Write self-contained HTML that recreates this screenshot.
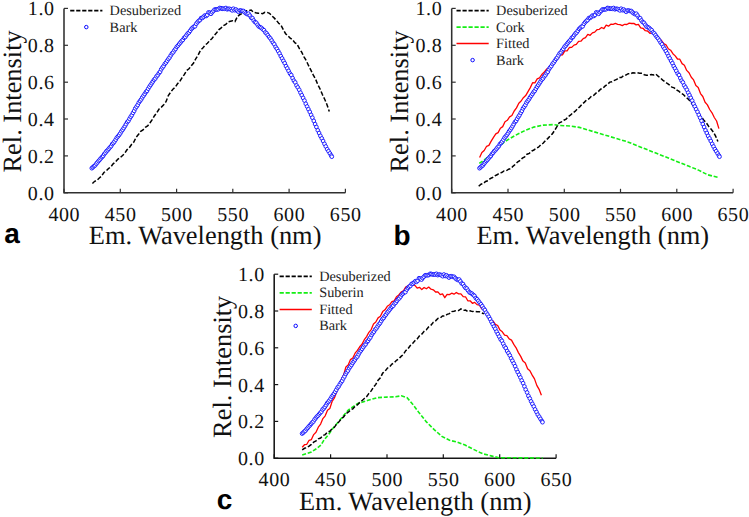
<!DOCTYPE html>
<html><head><meta charset="utf-8"><style>
html,body{margin:0;padding:0;background:#fff;overflow:hidden;width:749px;height:517px;}
svg{display:block;text-rendering:geometricPrecision;}
.tl{font-family:"Liberation Serif",serif;font-size:20px;fill:#111;letter-spacing:0.6px;}
.at{font-family:"Liberation Serif",serif;font-size:26.4px;fill:#111;}
.lg{font-family:"Liberation Serif",serif;font-size:14.3px;fill:#222;}
.pl{font-family:"Liberation Sans",sans-serif;font-size:28px;font-weight:bold;fill:#000;}
</style></head><body>
<svg width="749" height="517" viewBox="0 0 749 517">
<rect width="749" height="517" fill="#fff"/>
<path d="M64.0,8.4 V192.8 H345.4" fill="none" stroke="#303030" stroke-width="1.55"/>
<line x1="64.0" y1="192.8" x2="68.0" y2="192.8" stroke="#303030" stroke-width="1.2"/>
<text x="54.6" y="199.7" text-anchor="end" class="tl">0.0</text>
<line x1="64.0" y1="155.9" x2="68.0" y2="155.9" stroke="#303030" stroke-width="1.2"/>
<text x="54.6" y="162.8" text-anchor="end" class="tl">0.2</text>
<line x1="64.0" y1="119.0" x2="68.0" y2="119.0" stroke="#303030" stroke-width="1.2"/>
<text x="54.6" y="125.9" text-anchor="end" class="tl">0.4</text>
<line x1="64.0" y1="82.2" x2="68.0" y2="82.2" stroke="#303030" stroke-width="1.2"/>
<text x="54.6" y="89.1" text-anchor="end" class="tl">0.6</text>
<line x1="64.0" y1="45.3" x2="68.0" y2="45.3" stroke="#303030" stroke-width="1.2"/>
<text x="54.6" y="52.2" text-anchor="end" class="tl">0.8</text>
<line x1="64.0" y1="8.4" x2="68.0" y2="8.4" stroke="#303030" stroke-width="1.2"/>
<text x="54.6" y="15.3" text-anchor="end" class="tl">1.0</text>
<line x1="64.0" y1="192.8" x2="64.0" y2="188.8" stroke="#303030" stroke-width="1.2"/>
<text x="64.3" y="220.8" text-anchor="middle" class="tl">400</text>
<line x1="120.3" y1="192.8" x2="120.3" y2="188.8" stroke="#303030" stroke-width="1.2"/>
<text x="120.6" y="220.8" text-anchor="middle" class="tl">450</text>
<line x1="176.6" y1="192.8" x2="176.6" y2="188.8" stroke="#303030" stroke-width="1.2"/>
<text x="176.9" y="220.8" text-anchor="middle" class="tl">500</text>
<line x1="232.8" y1="192.8" x2="232.8" y2="188.8" stroke="#303030" stroke-width="1.2"/>
<text x="233.1" y="220.8" text-anchor="middle" class="tl">550</text>
<line x1="289.1" y1="192.8" x2="289.1" y2="188.8" stroke="#303030" stroke-width="1.2"/>
<text x="289.4" y="220.8" text-anchor="middle" class="tl">600</text>
<line x1="345.4" y1="192.8" x2="345.4" y2="188.8" stroke="#303030" stroke-width="1.2"/>
<text x="345.7" y="220.8" text-anchor="middle" class="tl">650</text>
<text x="88.8" y="244.1" class="at">Em. Wavelength (nm)</text>
<text transform="translate(20.7,172.5) rotate(-90)" class="at">Rel. Intensity</text>
<text x="4.2" y="242.7" class="pl">a</text>
<polyline points="92.4,183.5 94.7,181.3 97.0,180.2 99.3,178.0 101.6,176.1 103.9,172.5 106.2,170.9 108.5,168.5 110.8,166.9 113.1,163.9 115.4,162.1 117.7,159.3 120.0,157.9 122.3,155.7 124.6,153.5 126.9,149.8 129.2,147.9 131.5,144.5 133.8,142.1 136.1,137.3 138.4,134.6 140.7,131.4 143.0,129.9 145.3,127.4 147.6,126.0 149.9,123.0 152.2,119.7 154.5,115.7 156.8,112.7 159.1,109.0 161.4,107.1 163.7,104.7 166.0,101.7 168.3,95.7 170.6,92.3 172.9,89.2 175.2,87.3 177.5,83.8 179.8,81.3 182.1,77.7 184.4,74.4 186.7,70.4 189.0,68.8 191.3,65.7 193.6,63.0 195.9,58.5 198.2,54.9 200.5,50.2 202.8,48.1 205.1,45.1 207.4,43.3 209.7,40.6 212.0,38.5 214.3,35.4 216.6,32.8 218.9,29.6 221.2,27.9 223.5,25.6 225.8,24.4 228.1,22.0 230.4,21.3 232.7,20.8 235.0,21.6 237.3,16.8 239.6,14.7 241.9,13.6 244.2,13.0 246.5,10.7 248.8,10.5 251.1,10.0 253.4,12.3 255.7,12.8 258.0,13.2 260.3,13.2 262.6,13.7 264.9,12.3 267.2,12.4 269.5,13.3 271.8,15.8 274.1,17.9 276.4,20.4 278.7,23.2 281.0,25.2 283.3,29.6 285.6,33.7 287.9,35.8 290.2,38.1 292.5,39.7 294.8,42.7 297.1,44.2 299.4,48.7 301.7,52.2 304.0,56.9 306.3,60.7 308.6,65.7 310.9,70.1 313.2,74.9 315.5,78.9 317.8,84.6 320.1,89.0 322.4,94.5 324.7,99.3 327.0,104.7 329.3,111.5" fill="none" stroke="#000" stroke-width="1.5" stroke-dasharray="4.5 2"/>
<g fill="#fff" stroke="#0a0aff" stroke-width="0.9"><circle cx="91.8" cy="168.2" r="1.85"/><circle cx="92.9" cy="167.2" r="1.85"/><circle cx="94.1" cy="166.1" r="1.85"/><circle cx="95.2" cy="165.3" r="1.85"/><circle cx="96.3" cy="163.7" r="1.85"/><circle cx="97.4" cy="162.4" r="1.85"/><circle cx="98.6" cy="161.0" r="1.85"/><circle cx="99.7" cy="159.8" r="1.85"/><circle cx="100.8" cy="158.4" r="1.85"/><circle cx="102.0" cy="157.1" r="1.85"/><circle cx="103.1" cy="156.0" r="1.85"/><circle cx="104.2" cy="154.1" r="1.85"/><circle cx="105.4" cy="152.8" r="1.85"/><circle cx="106.5" cy="151.2" r="1.85"/><circle cx="107.7" cy="150.2" r="1.85"/><circle cx="108.8" cy="148.8" r="1.85"/><circle cx="109.9" cy="147.4" r="1.85"/><circle cx="111.1" cy="146.2" r="1.85"/><circle cx="112.2" cy="144.1" r="1.85"/><circle cx="113.4" cy="143.0" r="1.85"/><circle cx="114.5" cy="141.5" r="1.85"/><circle cx="115.7" cy="139.7" r="1.85"/><circle cx="116.8" cy="137.7" r="1.85"/><circle cx="118.0" cy="136.4" r="1.85"/><circle cx="119.1" cy="135.0" r="1.85"/><circle cx="120.3" cy="133.3" r="1.85"/><circle cx="121.4" cy="131.3" r="1.85"/><circle cx="122.6" cy="129.8" r="1.85"/><circle cx="123.7" cy="128.1" r="1.85"/><circle cx="124.9" cy="126.2" r="1.85"/><circle cx="126.0" cy="124.2" r="1.85"/><circle cx="127.2" cy="122.1" r="1.85"/><circle cx="128.4" cy="120.9" r="1.85"/><circle cx="129.5" cy="118.8" r="1.85"/><circle cx="130.7" cy="116.8" r="1.85"/><circle cx="131.8" cy="115.2" r="1.85"/><circle cx="133.0" cy="112.9" r="1.85"/><circle cx="134.2" cy="110.9" r="1.85"/><circle cx="135.3" cy="108.4" r="1.85"/><circle cx="136.5" cy="106.7" r="1.85"/><circle cx="137.7" cy="105.0" r="1.85"/><circle cx="138.8" cy="102.6" r="1.85"/><circle cx="140.0" cy="101.0" r="1.85"/><circle cx="141.2" cy="99.4" r="1.85"/><circle cx="142.3" cy="97.4" r="1.85"/><circle cx="143.5" cy="95.7" r="1.85"/><circle cx="144.7" cy="94.0" r="1.85"/><circle cx="145.9" cy="92.1" r="1.85"/><circle cx="147.0" cy="90.9" r="1.85"/><circle cx="148.2" cy="88.7" r="1.85"/><circle cx="149.4" cy="86.7" r="1.85"/><circle cx="150.6" cy="85.0" r="1.85"/><circle cx="151.8" cy="83.2" r="1.85"/><circle cx="152.9" cy="81.5" r="1.85"/><circle cx="154.1" cy="79.7" r="1.85"/><circle cx="155.3" cy="78.5" r="1.85"/><circle cx="156.5" cy="76.4" r="1.85"/><circle cx="157.7" cy="75.2" r="1.85"/><circle cx="158.9" cy="73.2" r="1.85"/><circle cx="160.1" cy="71.8" r="1.85"/><circle cx="161.2" cy="69.3" r="1.85"/><circle cx="162.4" cy="67.5" r="1.85"/><circle cx="163.6" cy="66.1" r="1.85"/><circle cx="164.8" cy="63.9" r="1.85"/><circle cx="166.0" cy="62.6" r="1.85"/><circle cx="167.2" cy="60.7" r="1.85"/><circle cx="168.4" cy="58.9" r="1.85"/><circle cx="169.6" cy="57.5" r="1.85"/><circle cx="170.8" cy="55.4" r="1.85"/><circle cx="172.0" cy="53.4" r="1.85"/><circle cx="173.2" cy="52.3" r="1.85"/><circle cx="174.4" cy="50.3" r="1.85"/><circle cx="175.6" cy="48.9" r="1.85"/><circle cx="176.8" cy="46.8" r="1.85"/><circle cx="178.0" cy="45.6" r="1.85"/><circle cx="179.2" cy="44.0" r="1.85"/><circle cx="180.4" cy="42.5" r="1.85"/><circle cx="181.6" cy="41.1" r="1.85"/><circle cx="182.8" cy="39.9" r="1.85"/><circle cx="184.1" cy="37.8" r="1.85"/><circle cx="185.3" cy="37.0" r="1.85"/><circle cx="186.5" cy="35.1" r="1.85"/><circle cx="187.7" cy="33.5" r="1.85"/><circle cx="188.9" cy="32.6" r="1.85"/><circle cx="190.1" cy="30.8" r="1.85"/><circle cx="191.4" cy="28.9" r="1.85"/><circle cx="192.6" cy="27.8" r="1.85"/><circle cx="193.8" cy="26.7" r="1.85"/><circle cx="195.0" cy="26.3" r="1.85"/><circle cx="196.2" cy="23.8" r="1.85"/><circle cx="197.5" cy="22.2" r="1.85"/><circle cx="198.7" cy="20.9" r="1.85"/><circle cx="199.9" cy="20.1" r="1.85"/><circle cx="201.1" cy="18.1" r="1.85"/><circle cx="202.4" cy="17.9" r="1.85"/><circle cx="203.6" cy="16.8" r="1.85"/><circle cx="204.8" cy="15.5" r="1.85"/><circle cx="206.1" cy="16.0" r="1.85"/><circle cx="207.3" cy="15.0" r="1.85"/><circle cx="208.5" cy="12.4" r="1.85"/><circle cx="209.8" cy="12.8" r="1.85"/><circle cx="211.0" cy="13.8" r="1.85"/><circle cx="212.2" cy="12.2" r="1.85"/><circle cx="213.5" cy="10.9" r="1.85"/><circle cx="214.7" cy="9.5" r="1.85"/><circle cx="216.0" cy="9.5" r="1.85"/><circle cx="217.2" cy="9.4" r="1.85"/><circle cx="218.4" cy="9.2" r="1.85"/><circle cx="219.7" cy="8.0" r="1.85"/><circle cx="220.9" cy="8.2" r="1.85"/><circle cx="222.2" cy="8.8" r="1.85"/><circle cx="223.4" cy="8.6" r="1.85"/><circle cx="224.7" cy="8.8" r="1.85"/><circle cx="225.9" cy="8.0" r="1.85"/><circle cx="227.2" cy="9.3" r="1.85"/><circle cx="228.4" cy="8.8" r="1.85"/><circle cx="229.7" cy="8.9" r="1.85"/><circle cx="230.9" cy="9.4" r="1.85"/><circle cx="232.2" cy="10.4" r="1.85"/><circle cx="233.4" cy="8.7" r="1.85"/><circle cx="234.7" cy="10.2" r="1.85"/><circle cx="236.0" cy="9.5" r="1.85"/><circle cx="237.2" cy="10.7" r="1.85"/><circle cx="238.5" cy="11.8" r="1.85"/><circle cx="239.8" cy="10.5" r="1.85"/><circle cx="241.0" cy="10.6" r="1.85"/><circle cx="242.3" cy="11.0" r="1.85"/><circle cx="243.6" cy="11.0" r="1.85"/><circle cx="244.8" cy="12.4" r="1.85"/><circle cx="246.1" cy="13.5" r="1.85"/><circle cx="247.4" cy="14.2" r="1.85"/><circle cx="248.6" cy="13.7" r="1.85"/><circle cx="249.9" cy="15.6" r="1.85"/><circle cx="251.2" cy="17.7" r="1.85"/><circle cx="252.5" cy="18.2" r="1.85"/><circle cx="253.7" cy="20.5" r="1.85"/><circle cx="255.0" cy="22.1" r="1.85"/><circle cx="256.3" cy="22.8" r="1.85"/><circle cx="257.6" cy="24.8" r="1.85"/><circle cx="258.8" cy="26.5" r="1.85"/><circle cx="260.1" cy="27.2" r="1.85"/><circle cx="261.4" cy="27.9" r="1.85"/><circle cx="262.7" cy="29.2" r="1.85"/><circle cx="264.0" cy="30.2" r="1.85"/><circle cx="265.3" cy="32.4" r="1.85"/><circle cx="266.6" cy="33.4" r="1.85"/><circle cx="267.8" cy="35.2" r="1.85"/><circle cx="269.1" cy="37.0" r="1.85"/><circle cx="270.4" cy="38.5" r="1.85"/><circle cx="271.7" cy="40.5" r="1.85"/><circle cx="273.0" cy="42.7" r="1.85"/><circle cx="274.3" cy="44.3" r="1.85"/><circle cx="275.6" cy="46.9" r="1.85"/><circle cx="276.9" cy="48.8" r="1.85"/><circle cx="278.2" cy="51.1" r="1.85"/><circle cx="279.5" cy="53.4" r="1.85"/><circle cx="280.8" cy="56.1" r="1.85"/><circle cx="282.1" cy="58.4" r="1.85"/><circle cx="283.4" cy="60.9" r="1.85"/><circle cx="284.7" cy="63.2" r="1.85"/><circle cx="286.0" cy="66.1" r="1.85"/><circle cx="287.3" cy="68.4" r="1.85"/><circle cx="288.6" cy="70.9" r="1.85"/><circle cx="290.0" cy="73.6" r="1.85"/><circle cx="291.3" cy="75.1" r="1.85"/><circle cx="292.6" cy="78.1" r="1.85"/><circle cx="293.9" cy="80.7" r="1.85"/><circle cx="295.2" cy="82.4" r="1.85"/><circle cx="296.5" cy="85.4" r="1.85"/><circle cx="297.8" cy="87.4" r="1.85"/><circle cx="299.2" cy="89.8" r="1.85"/><circle cx="300.5" cy="92.7" r="1.85"/><circle cx="301.8" cy="95.2" r="1.85"/><circle cx="303.1" cy="97.9" r="1.85"/><circle cx="304.5" cy="100.6" r="1.85"/><circle cx="305.8" cy="103.8" r="1.85"/><circle cx="307.1" cy="106.5" r="1.85"/><circle cx="308.4" cy="109.2" r="1.85"/><circle cx="309.8" cy="111.9" r="1.85"/><circle cx="311.1" cy="114.9" r="1.85"/><circle cx="312.4" cy="117.7" r="1.85"/><circle cx="313.8" cy="120.9" r="1.85"/><circle cx="315.1" cy="124.1" r="1.85"/><circle cx="316.4" cy="127.0" r="1.85"/><circle cx="317.8" cy="130.3" r="1.85"/><circle cx="319.1" cy="133.0" r="1.85"/><circle cx="320.4" cy="135.9" r="1.85"/><circle cx="321.8" cy="138.4" r="1.85"/><circle cx="323.1" cy="141.0" r="1.85"/><circle cx="324.5" cy="143.9" r="1.85"/><circle cx="325.8" cy="146.5" r="1.85"/><circle cx="327.2" cy="149.2" r="1.85"/><circle cx="328.5" cy="151.2" r="1.85"/><circle cx="329.9" cy="153.4" r="1.85"/><circle cx="331.2" cy="155.5" r="1.85"/><circle cx="331.8" cy="156.7" r="1.85"/></g>
<line x1="70.2" y1="10.6" x2="102.4" y2="10.6" stroke="#000" stroke-width="1.6" stroke-dasharray="4.2 1.8"/>
<text x="109.6" y="15.0" class="lg">Desuberized</text>
<circle cx="86.3" cy="27.1" r="1.75" fill="#fff" stroke="#0a0aff" stroke-width="1"/>
<text x="109.6" y="31.5" class="lg">Bark</text>
<path d="M451.7,8.4 V192.8 H733.1" fill="none" stroke="#303030" stroke-width="1.55"/>
<line x1="451.7" y1="192.8" x2="455.7" y2="192.8" stroke="#303030" stroke-width="1.2"/>
<text x="442.3" y="199.7" text-anchor="end" class="tl">0.0</text>
<line x1="451.7" y1="155.9" x2="455.7" y2="155.9" stroke="#303030" stroke-width="1.2"/>
<text x="442.3" y="162.8" text-anchor="end" class="tl">0.2</text>
<line x1="451.7" y1="119.0" x2="455.7" y2="119.0" stroke="#303030" stroke-width="1.2"/>
<text x="442.3" y="125.9" text-anchor="end" class="tl">0.4</text>
<line x1="451.7" y1="82.2" x2="455.7" y2="82.2" stroke="#303030" stroke-width="1.2"/>
<text x="442.3" y="89.1" text-anchor="end" class="tl">0.6</text>
<line x1="451.7" y1="45.3" x2="455.7" y2="45.3" stroke="#303030" stroke-width="1.2"/>
<text x="442.3" y="52.2" text-anchor="end" class="tl">0.8</text>
<line x1="451.7" y1="8.4" x2="455.7" y2="8.4" stroke="#303030" stroke-width="1.2"/>
<text x="442.3" y="15.3" text-anchor="end" class="tl">1.0</text>
<line x1="451.7" y1="192.8" x2="451.7" y2="188.8" stroke="#303030" stroke-width="1.2"/>
<text x="452.0" y="220.8" text-anchor="middle" class="tl">400</text>
<line x1="508.0" y1="192.8" x2="508.0" y2="188.8" stroke="#303030" stroke-width="1.2"/>
<text x="508.3" y="220.8" text-anchor="middle" class="tl">450</text>
<line x1="564.3" y1="192.8" x2="564.3" y2="188.8" stroke="#303030" stroke-width="1.2"/>
<text x="564.6" y="220.8" text-anchor="middle" class="tl">500</text>
<line x1="620.5" y1="192.8" x2="620.5" y2="188.8" stroke="#303030" stroke-width="1.2"/>
<text x="620.8" y="220.8" text-anchor="middle" class="tl">550</text>
<line x1="676.8" y1="192.8" x2="676.8" y2="188.8" stroke="#303030" stroke-width="1.2"/>
<text x="677.1" y="220.8" text-anchor="middle" class="tl">600</text>
<line x1="733.1" y1="192.8" x2="733.1" y2="188.8" stroke="#303030" stroke-width="1.2"/>
<text x="733.4" y="220.8" text-anchor="middle" class="tl">650</text>
<text x="476.5" y="244.1" class="at">Em. Wavelength (nm)</text>
<text transform="translate(408.4,172.5) rotate(-90)" class="at">Rel. Intensity</text>
<text x="393.5" y="244.7" class="pl">b</text>
<polyline points="479.3,163.4 485.5,159.0 495.1,150.3 504.8,141.6 514.5,135.8 524.2,130.9 533.8,127.1 543.5,125.1 553.2,124.6 560.0,125.5 569.7,126.0 579.3,127.4 589.0,130.3 598.7,133.2 608.4,136.1 618.0,139.0 627.7,141.9 637.4,145.8 647.0,149.6 659.3,154.5 669.0,158.3 678.7,162.2 688.4,166.1 698.0,169.9 707.7,174.8 718.9,177.7" fill="none" stroke="#14ee14" stroke-width="1.6" stroke-dasharray="4 1.8"/>
<polyline points="478.7,186.3 481.0,184.2 483.3,183.5 485.6,181.5 487.9,180.7 490.2,178.6 492.5,177.5 494.8,175.8 497.1,174.8 499.4,173.1 501.7,172.6 504.0,170.9 506.3,170.8 508.6,169.2 510.9,168.6 513.2,166.1 515.5,164.2 517.8,161.8 520.1,160.4 522.4,158.1 524.7,156.8 527.0,154.2 529.3,153.4 531.6,151.1 533.9,150.0 536.2,148.1 538.5,147.2 540.8,144.8 543.1,143.3 545.4,140.6 547.7,138.6 550.0,136.0 552.3,133.9 554.6,130.4 556.9,126.7 559.2,122.8 561.5,121.9 563.8,120.2 566.1,119.1 568.4,116.5 570.7,115.0 573.0,112.7 575.3,111.2 577.6,108.7 579.9,106.6 582.2,104.1 584.5,102.1 586.8,99.7 589.1,98.7 591.4,96.3 593.7,95.4 596.0,93.1 598.3,91.6 600.6,89.2 602.9,88.3 605.2,85.9 607.5,84.4 609.8,82.1 612.1,81.8 614.4,80.3 616.7,79.4 619.0,77.6 621.3,77.5 623.6,75.7 625.9,75.1 628.2,73.7 630.5,73.8 632.8,72.7 635.1,73.0 637.4,72.7 639.7,73.2 642.0,73.2 644.3,74.7 646.6,75.2 648.9,75.2 651.2,74.5 653.5,75.0 655.8,74.1 658.1,76.2 660.4,78.0 662.7,80.1 665.0,81.7 667.3,83.5 669.6,85.0 671.9,87.1 674.2,87.9 676.5,90.0 678.8,91.2 681.1,93.3 683.4,94.5 685.7,97.1 688.0,98.8 690.3,101.4 692.6,104.5 694.9,108.8 697.2,111.3 699.5,115.2 701.8,117.4 704.1,120.6 706.4,123.0 708.7,126.4 711.0,129.1 713.3,132.0 715.6,136.1 717.9,141.5" fill="none" stroke="#000" stroke-width="1.5" stroke-dasharray="4.5 2"/>
<polyline points="479.6,157.6 481.9,152.6 484.2,150.5 486.6,146.3 488.9,145.4 491.2,141.1 493.5,137.3 495.8,133.9 498.1,132.6 500.4,128.2 502.7,126.6 505.0,121.7 507.3,120.3 509.6,116.9 511.9,115.5 514.2,111.0 516.5,107.9 518.8,103.3 521.1,101.0 523.4,97.7 525.7,95.6 528.0,91.6 530.3,87.6 532.6,82.7 534.9,82.9 537.2,78.9 539.5,77.8 541.8,74.5 544.1,72.3 546.4,69.3 548.7,67.9 551.0,64.5 553.3,63.9 555.6,59.0 557.9,58.6 560.2,55.1 562.5,54.8 564.8,50.9 567.1,50.9 569.4,47.5 571.7,47.4 574.0,45.1 576.3,44.3 578.6,41.4 580.9,41.2 583.2,38.6 585.5,37.7 587.8,34.4 590.1,35.3 592.4,32.9 594.7,32.1 597.0,29.7 599.3,29.3 601.6,27.5 603.9,28.6 606.2,25.2 608.5,26.2 610.8,24.2 613.1,24.3 615.4,23.4 617.7,24.3 620.0,24.6 622.3,25.6 624.6,24.3 626.9,24.5 629.2,23.1 631.5,23.5 633.8,23.4 636.1,24.9 638.4,24.4 640.7,27.9 643.0,28.3 645.3,30.7 647.6,31.0 649.9,33.3 652.2,32.8 654.5,34.6 656.8,35.4 659.1,38.5 661.4,40.4 663.7,43.7 666.0,44.8 668.3,48.8 670.6,50.2 672.9,53.7 675.2,55.9 677.5,59.0 679.8,59.2 682.1,63.6 684.4,65.2 686.7,70.4 689.0,72.8 691.3,77.3 693.6,79.9 695.9,85.6 698.2,87.5 700.5,93.6 702.8,96.5 705.1,102.3 707.4,104.9 709.7,109.5 712.0,112.8 714.3,117.5 716.6,121.0 718.9,128.6" fill="none" stroke="#ff0000" stroke-width="1.3" stroke-linejoin="round"/>
<g fill="#fff" stroke="#0a0aff" stroke-width="0.9"><circle cx="479.5" cy="168.2" r="1.85"/><circle cx="480.6" cy="167.2" r="1.85"/><circle cx="481.8" cy="166.1" r="1.85"/><circle cx="482.9" cy="165.3" r="1.85"/><circle cx="484.0" cy="163.7" r="1.85"/><circle cx="485.1" cy="162.4" r="1.85"/><circle cx="486.3" cy="161.0" r="1.85"/><circle cx="487.4" cy="159.8" r="1.85"/><circle cx="488.5" cy="158.4" r="1.85"/><circle cx="489.7" cy="157.1" r="1.85"/><circle cx="490.8" cy="156.0" r="1.85"/><circle cx="491.9" cy="154.1" r="1.85"/><circle cx="493.1" cy="152.8" r="1.85"/><circle cx="494.2" cy="151.2" r="1.85"/><circle cx="495.4" cy="150.2" r="1.85"/><circle cx="496.5" cy="148.8" r="1.85"/><circle cx="497.6" cy="147.4" r="1.85"/><circle cx="498.8" cy="146.2" r="1.85"/><circle cx="499.9" cy="144.1" r="1.85"/><circle cx="501.1" cy="143.0" r="1.85"/><circle cx="502.2" cy="141.5" r="1.85"/><circle cx="503.4" cy="139.7" r="1.85"/><circle cx="504.5" cy="137.7" r="1.85"/><circle cx="505.7" cy="136.4" r="1.85"/><circle cx="506.8" cy="135.0" r="1.85"/><circle cx="508.0" cy="133.3" r="1.85"/><circle cx="509.1" cy="131.3" r="1.85"/><circle cx="510.3" cy="129.8" r="1.85"/><circle cx="511.4" cy="128.1" r="1.85"/><circle cx="512.6" cy="126.2" r="1.85"/><circle cx="513.7" cy="124.2" r="1.85"/><circle cx="514.9" cy="122.1" r="1.85"/><circle cx="516.1" cy="120.9" r="1.85"/><circle cx="517.2" cy="118.8" r="1.85"/><circle cx="518.4" cy="116.8" r="1.85"/><circle cx="519.5" cy="115.2" r="1.85"/><circle cx="520.7" cy="112.9" r="1.85"/><circle cx="521.9" cy="110.9" r="1.85"/><circle cx="523.0" cy="108.4" r="1.85"/><circle cx="524.2" cy="106.7" r="1.85"/><circle cx="525.4" cy="105.0" r="1.85"/><circle cx="526.5" cy="102.6" r="1.85"/><circle cx="527.7" cy="101.0" r="1.85"/><circle cx="528.9" cy="99.4" r="1.85"/><circle cx="530.0" cy="97.4" r="1.85"/><circle cx="531.2" cy="95.7" r="1.85"/><circle cx="532.4" cy="94.0" r="1.85"/><circle cx="533.6" cy="92.1" r="1.85"/><circle cx="534.7" cy="90.9" r="1.85"/><circle cx="535.9" cy="88.7" r="1.85"/><circle cx="537.1" cy="86.7" r="1.85"/><circle cx="538.3" cy="85.0" r="1.85"/><circle cx="539.5" cy="83.2" r="1.85"/><circle cx="540.6" cy="81.5" r="1.85"/><circle cx="541.8" cy="79.7" r="1.85"/><circle cx="543.0" cy="78.5" r="1.85"/><circle cx="544.2" cy="76.4" r="1.85"/><circle cx="545.4" cy="75.2" r="1.85"/><circle cx="546.6" cy="73.2" r="1.85"/><circle cx="547.8" cy="71.8" r="1.85"/><circle cx="548.9" cy="69.3" r="1.85"/><circle cx="550.1" cy="67.5" r="1.85"/><circle cx="551.3" cy="66.1" r="1.85"/><circle cx="552.5" cy="63.9" r="1.85"/><circle cx="553.7" cy="62.6" r="1.85"/><circle cx="554.9" cy="60.7" r="1.85"/><circle cx="556.1" cy="58.9" r="1.85"/><circle cx="557.3" cy="57.5" r="1.85"/><circle cx="558.5" cy="55.4" r="1.85"/><circle cx="559.7" cy="53.4" r="1.85"/><circle cx="560.9" cy="52.3" r="1.85"/><circle cx="562.1" cy="50.3" r="1.85"/><circle cx="563.3" cy="48.9" r="1.85"/><circle cx="564.5" cy="46.8" r="1.85"/><circle cx="565.7" cy="45.6" r="1.85"/><circle cx="566.9" cy="44.0" r="1.85"/><circle cx="568.1" cy="42.5" r="1.85"/><circle cx="569.3" cy="41.1" r="1.85"/><circle cx="570.5" cy="39.9" r="1.85"/><circle cx="571.8" cy="37.8" r="1.85"/><circle cx="573.0" cy="37.0" r="1.85"/><circle cx="574.2" cy="35.1" r="1.85"/><circle cx="575.4" cy="33.5" r="1.85"/><circle cx="576.6" cy="32.6" r="1.85"/><circle cx="577.8" cy="30.8" r="1.85"/><circle cx="579.1" cy="28.9" r="1.85"/><circle cx="580.3" cy="27.8" r="1.85"/><circle cx="581.5" cy="26.7" r="1.85"/><circle cx="582.7" cy="26.3" r="1.85"/><circle cx="583.9" cy="23.8" r="1.85"/><circle cx="585.2" cy="22.2" r="1.85"/><circle cx="586.4" cy="20.9" r="1.85"/><circle cx="587.6" cy="20.1" r="1.85"/><circle cx="588.8" cy="18.1" r="1.85"/><circle cx="590.1" cy="17.9" r="1.85"/><circle cx="591.3" cy="16.8" r="1.85"/><circle cx="592.5" cy="15.5" r="1.85"/><circle cx="593.8" cy="16.0" r="1.85"/><circle cx="595.0" cy="15.0" r="1.85"/><circle cx="596.2" cy="12.4" r="1.85"/><circle cx="597.5" cy="12.8" r="1.85"/><circle cx="598.7" cy="13.8" r="1.85"/><circle cx="599.9" cy="12.2" r="1.85"/><circle cx="601.2" cy="10.9" r="1.85"/><circle cx="602.4" cy="9.5" r="1.85"/><circle cx="603.7" cy="9.5" r="1.85"/><circle cx="604.9" cy="9.4" r="1.85"/><circle cx="606.1" cy="9.2" r="1.85"/><circle cx="607.4" cy="8.0" r="1.85"/><circle cx="608.6" cy="8.2" r="1.85"/><circle cx="609.9" cy="8.8" r="1.85"/><circle cx="611.1" cy="8.6" r="1.85"/><circle cx="612.4" cy="8.8" r="1.85"/><circle cx="613.6" cy="8.0" r="1.85"/><circle cx="614.9" cy="9.3" r="1.85"/><circle cx="616.1" cy="8.8" r="1.85"/><circle cx="617.4" cy="8.9" r="1.85"/><circle cx="618.6" cy="9.4" r="1.85"/><circle cx="619.9" cy="10.4" r="1.85"/><circle cx="621.1" cy="8.7" r="1.85"/><circle cx="622.4" cy="10.2" r="1.85"/><circle cx="623.7" cy="9.5" r="1.85"/><circle cx="624.9" cy="10.7" r="1.85"/><circle cx="626.2" cy="11.8" r="1.85"/><circle cx="627.5" cy="10.5" r="1.85"/><circle cx="628.7" cy="10.6" r="1.85"/><circle cx="630.0" cy="11.0" r="1.85"/><circle cx="631.3" cy="11.0" r="1.85"/><circle cx="632.5" cy="12.4" r="1.85"/><circle cx="633.8" cy="13.5" r="1.85"/><circle cx="635.1" cy="14.2" r="1.85"/><circle cx="636.3" cy="13.7" r="1.85"/><circle cx="637.6" cy="15.6" r="1.85"/><circle cx="638.9" cy="17.7" r="1.85"/><circle cx="640.2" cy="18.2" r="1.85"/><circle cx="641.4" cy="20.5" r="1.85"/><circle cx="642.7" cy="22.1" r="1.85"/><circle cx="644.0" cy="22.8" r="1.85"/><circle cx="645.3" cy="24.8" r="1.85"/><circle cx="646.5" cy="26.5" r="1.85"/><circle cx="647.8" cy="27.2" r="1.85"/><circle cx="649.1" cy="27.9" r="1.85"/><circle cx="650.4" cy="29.2" r="1.85"/><circle cx="651.7" cy="30.2" r="1.85"/><circle cx="653.0" cy="32.4" r="1.85"/><circle cx="654.3" cy="33.4" r="1.85"/><circle cx="655.5" cy="35.2" r="1.85"/><circle cx="656.8" cy="37.0" r="1.85"/><circle cx="658.1" cy="38.5" r="1.85"/><circle cx="659.4" cy="40.5" r="1.85"/><circle cx="660.7" cy="42.7" r="1.85"/><circle cx="662.0" cy="44.3" r="1.85"/><circle cx="663.3" cy="46.9" r="1.85"/><circle cx="664.6" cy="48.8" r="1.85"/><circle cx="665.9" cy="51.1" r="1.85"/><circle cx="667.2" cy="53.4" r="1.85"/><circle cx="668.5" cy="56.1" r="1.85"/><circle cx="669.8" cy="58.4" r="1.85"/><circle cx="671.1" cy="60.9" r="1.85"/><circle cx="672.4" cy="63.2" r="1.85"/><circle cx="673.7" cy="66.1" r="1.85"/><circle cx="675.0" cy="68.4" r="1.85"/><circle cx="676.3" cy="70.9" r="1.85"/><circle cx="677.7" cy="73.6" r="1.85"/><circle cx="679.0" cy="75.1" r="1.85"/><circle cx="680.3" cy="78.1" r="1.85"/><circle cx="681.6" cy="80.7" r="1.85"/><circle cx="682.9" cy="82.4" r="1.85"/><circle cx="684.2" cy="85.4" r="1.85"/><circle cx="685.5" cy="87.4" r="1.85"/><circle cx="686.9" cy="89.8" r="1.85"/><circle cx="688.2" cy="92.7" r="1.85"/><circle cx="689.5" cy="95.2" r="1.85"/><circle cx="690.8" cy="97.9" r="1.85"/><circle cx="692.2" cy="100.6" r="1.85"/><circle cx="693.5" cy="103.8" r="1.85"/><circle cx="694.8" cy="106.5" r="1.85"/><circle cx="696.1" cy="109.2" r="1.85"/><circle cx="697.5" cy="111.9" r="1.85"/><circle cx="698.8" cy="114.9" r="1.85"/><circle cx="700.1" cy="117.7" r="1.85"/><circle cx="701.5" cy="120.9" r="1.85"/><circle cx="702.8" cy="124.1" r="1.85"/><circle cx="704.1" cy="127.0" r="1.85"/><circle cx="705.5" cy="130.3" r="1.85"/><circle cx="706.8" cy="133.0" r="1.85"/><circle cx="708.1" cy="135.9" r="1.85"/><circle cx="709.5" cy="138.4" r="1.85"/><circle cx="710.8" cy="141.0" r="1.85"/><circle cx="712.2" cy="143.9" r="1.85"/><circle cx="713.5" cy="146.5" r="1.85"/><circle cx="714.9" cy="149.2" r="1.85"/><circle cx="716.2" cy="151.2" r="1.85"/><circle cx="717.6" cy="153.4" r="1.85"/><circle cx="718.9" cy="155.5" r="1.85"/><circle cx="719.5" cy="156.7" r="1.85"/></g>
<line x1="456.5" y1="10.6" x2="488.7" y2="10.6" stroke="#000" stroke-width="1.6" stroke-dasharray="4.2 1.8"/>
<text x="496.1" y="15.0" class="lg">Desuberized</text>
<line x1="456.5" y1="27.1" x2="488.7" y2="27.1" stroke="#14ee14" stroke-width="1.6" stroke-dasharray="4.2 1.8"/>
<text x="496.1" y="31.5" class="lg">Cork</text>
<line x1="456.5" y1="43.6" x2="488.7" y2="43.6" stroke="#ff0000" stroke-width="1.5"/>
<text x="496.1" y="48.0" class="lg">Fitted</text>
<circle cx="472.6" cy="60.1" r="1.75" fill="#fff" stroke="#0a0aff" stroke-width="1"/>
<text x="496.1" y="64.5" class="lg">Bark</text>
<path d="M274.2,274.2 V458.2 H556.1" fill="none" stroke="#161616" stroke-width="1.55"/>
<line x1="274.2" y1="458.2" x2="278.2" y2="458.2" stroke="#161616" stroke-width="1.2"/>
<text x="264.8" y="465.1" text-anchor="end" class="tl">0.0</text>
<line x1="274.2" y1="421.4" x2="278.2" y2="421.4" stroke="#161616" stroke-width="1.2"/>
<text x="264.8" y="428.3" text-anchor="end" class="tl">0.2</text>
<line x1="274.2" y1="384.6" x2="278.2" y2="384.6" stroke="#161616" stroke-width="1.2"/>
<text x="264.8" y="391.5" text-anchor="end" class="tl">0.4</text>
<line x1="274.2" y1="347.8" x2="278.2" y2="347.8" stroke="#161616" stroke-width="1.2"/>
<text x="264.8" y="354.7" text-anchor="end" class="tl">0.6</text>
<line x1="274.2" y1="311.0" x2="278.2" y2="311.0" stroke="#161616" stroke-width="1.2"/>
<text x="264.8" y="317.9" text-anchor="end" class="tl">0.8</text>
<line x1="274.2" y1="274.2" x2="278.2" y2="274.2" stroke="#161616" stroke-width="1.2"/>
<text x="264.8" y="281.1" text-anchor="end" class="tl">1.0</text>
<line x1="274.2" y1="458.2" x2="274.2" y2="454.2" stroke="#161616" stroke-width="1.2"/>
<text x="274.5" y="486.2" text-anchor="middle" class="tl">400</text>
<line x1="330.6" y1="458.2" x2="330.6" y2="454.2" stroke="#161616" stroke-width="1.2"/>
<text x="330.9" y="486.2" text-anchor="middle" class="tl">450</text>
<line x1="387.0" y1="458.2" x2="387.0" y2="454.2" stroke="#161616" stroke-width="1.2"/>
<text x="387.3" y="486.2" text-anchor="middle" class="tl">500</text>
<line x1="443.3" y1="458.2" x2="443.3" y2="454.2" stroke="#161616" stroke-width="1.2"/>
<text x="443.6" y="486.2" text-anchor="middle" class="tl">550</text>
<line x1="499.7" y1="458.2" x2="499.7" y2="454.2" stroke="#161616" stroke-width="1.2"/>
<text x="500.0" y="486.2" text-anchor="middle" class="tl">600</text>
<line x1="556.1" y1="458.2" x2="556.1" y2="454.2" stroke="#161616" stroke-width="1.2"/>
<text x="556.4" y="486.2" text-anchor="middle" class="tl">650</text>
<text x="299.0" y="509.5" class="at">Em. Wavelength (nm)</text>
<text transform="translate(230.9,437.9) rotate(-90)" class="at">Rel. Intensity</text>
<text x="216.8" y="508.6" class="pl">c</text>
<polyline points="302.2,454.9 306.6,453.5 311.4,452.0 317.2,448.2 321.1,444.8 324.0,440.0 328.8,434.2 333.6,427.4 338.4,421.9 348.0,410.3 357.7,403.5 367.4,400.6 377.0,397.7 386.7,397.1 395.5,396.8 401.3,395.8 407.1,397.7 412.9,404.5 418.7,412.2 426.4,421.9 434.2,429.6 441.9,436.4 449.6,440.3 457.4,442.2 465.1,445.1 472.8,449.0 480.0,452.5 484.0,454.1 492.0,456.1 498.7,457.7 542.8,458.0" fill="none" stroke="#14ee14" stroke-width="1.6" stroke-dasharray="4 1.8"/>
<polyline points="302.2,449.9 304.5,448.3 306.8,447.7 309.1,446.1 311.4,444.4 313.7,442.1 316.0,440.9 318.3,438.8 320.6,438.0 322.9,435.6 325.2,434.6 327.5,432.2 329.8,431.3 332.1,428.8 334.4,427.3 336.7,423.9 339.0,421.7 341.3,418.9 343.6,416.9 345.9,413.9 348.2,412.2 350.5,410.1 352.8,408.8 355.1,406.2 357.4,404.9 359.7,402.4 362.0,400.7 364.3,398.5 366.6,396.7 368.9,393.4 371.2,390.9 373.5,387.2 375.8,384.4 378.1,380.1 380.4,377.8 382.7,373.1 385.0,371.3 387.3,368.2 389.6,366.9 391.9,364.1 394.2,362.9 396.5,360.3 398.8,358.9 401.1,356.4 403.4,354.4 405.7,350.7 408.0,348.7 410.3,345.5 412.6,343.5 414.9,340.7 417.2,338.9 419.5,335.8 421.8,334.2 424.1,331.3 426.4,329.8 428.7,326.9 431.0,325.2 433.3,322.2 435.6,320.8 437.9,318.4 440.2,318.0 442.5,316.0 444.8,315.9 447.1,314.4 449.4,313.6 451.7,311.6 454.0,311.3 456.3,310.5 458.6,310.5 460.9,308.9 463.2,310.4 465.5,310.1 467.8,311.6 470.1,310.9 472.4,311.6 474.7,311.2 477.0,311.7 479.3,311.7 481.6,312.9 483.9,313.8" fill="none" stroke="#000" stroke-width="1.5" stroke-dasharray="4.5 2"/>
<polyline points="302.2,447.3 304.5,444.7 306.8,444.3 309.1,440.3 311.4,439.6 313.7,434.6 316.0,432.3 318.3,427.2 320.6,424.1 322.9,418.6 325.2,415.8 327.5,410.3 329.8,408.6 332.1,401.5 334.4,397.9 336.7,391.7 339.0,387.3 341.3,379.4 343.6,375.1 345.9,367.0 348.2,364.9 350.5,359.6 352.8,358.0 355.1,353.2 357.4,350.4 359.7,346.8 362.0,344.2 364.3,339.7 366.6,336.6 368.9,332.3 371.2,329.6 373.5,323.9 375.8,322.0 378.1,317.9 380.4,316.3 382.7,311.6 385.0,309.8 387.3,306.3 389.6,304.8 391.9,301.6 394.2,300.8 396.5,296.7 398.8,295.0 401.1,292.1 403.4,290.8 405.7,287.1 408.0,285.7 410.3,284.9 412.6,285.2 414.9,285.3 417.2,288.1 419.5,287.3 421.8,289.6 424.1,287.5 426.4,288.8 428.7,287.1 431.0,289.2 433.3,289.8 435.6,292.0 437.9,291.9 440.2,294.6 442.5,293.8 444.8,297.7 447.1,294.4 449.4,294.6 451.7,293.2 454.0,294.2 456.3,292.5 458.6,293.9 460.9,293.9 463.2,296.7 465.5,296.8 467.8,300.8 470.1,300.8 472.4,303.3 474.7,302.4 477.0,304.6 479.3,305.0 481.6,308.7 483.9,309.9 486.2,313.9 488.5,315.8 490.8,320.8 493.1,321.0 495.4,324.3 497.7,325.5 500.0,330.1 502.3,331.8 504.6,335.2 506.9,335.7 509.2,338.9 511.5,340.1 513.8,344.4 516.1,347.8 518.4,352.6 520.7,356.4 523.0,361.1 525.3,363.1 527.6,368.8 529.9,370.8 532.2,375.1 534.5,378.9 536.8,385.4 539.1,389.3 541.4,395.2" fill="none" stroke="#ff0000" stroke-width="1.3" stroke-linejoin="round"/>
<g fill="#fff" stroke="#0a0aff" stroke-width="0.9"><circle cx="302.1" cy="433.6" r="1.85"/><circle cx="303.2" cy="432.7" r="1.85"/><circle cx="304.3" cy="431.5" r="1.85"/><circle cx="305.4" cy="430.7" r="1.85"/><circle cx="306.6" cy="429.1" r="1.85"/><circle cx="307.7" cy="427.9" r="1.85"/><circle cx="308.8" cy="426.5" r="1.85"/><circle cx="310.0" cy="425.3" r="1.85"/><circle cx="311.1" cy="423.9" r="1.85"/><circle cx="312.2" cy="422.6" r="1.85"/><circle cx="313.4" cy="421.5" r="1.85"/><circle cx="314.5" cy="419.6" r="1.85"/><circle cx="315.7" cy="418.2" r="1.85"/><circle cx="316.8" cy="416.7" r="1.85"/><circle cx="317.9" cy="415.7" r="1.85"/><circle cx="319.1" cy="414.3" r="1.85"/><circle cx="320.2" cy="412.9" r="1.85"/><circle cx="321.4" cy="411.7" r="1.85"/><circle cx="322.5" cy="409.6" r="1.85"/><circle cx="323.7" cy="408.5" r="1.85"/><circle cx="324.8" cy="407.0" r="1.85"/><circle cx="326.0" cy="405.2" r="1.85"/><circle cx="327.1" cy="403.2" r="1.85"/><circle cx="328.3" cy="401.9" r="1.85"/><circle cx="329.4" cy="400.5" r="1.85"/><circle cx="330.6" cy="398.8" r="1.85"/><circle cx="331.7" cy="396.8" r="1.85"/><circle cx="332.9" cy="395.3" r="1.85"/><circle cx="334.0" cy="393.7" r="1.85"/><circle cx="335.2" cy="391.8" r="1.85"/><circle cx="336.3" cy="389.8" r="1.85"/><circle cx="337.5" cy="387.6" r="1.85"/><circle cx="338.7" cy="386.4" r="1.85"/><circle cx="339.8" cy="384.3" r="1.85"/><circle cx="341.0" cy="382.4" r="1.85"/><circle cx="342.2" cy="380.8" r="1.85"/><circle cx="343.3" cy="378.4" r="1.85"/><circle cx="344.5" cy="376.4" r="1.85"/><circle cx="345.7" cy="374.0" r="1.85"/><circle cx="346.8" cy="372.2" r="1.85"/><circle cx="348.0" cy="370.6" r="1.85"/><circle cx="349.2" cy="368.2" r="1.85"/><circle cx="350.3" cy="366.6" r="1.85"/><circle cx="351.5" cy="365.0" r="1.85"/><circle cx="352.7" cy="363.0" r="1.85"/><circle cx="353.9" cy="361.3" r="1.85"/><circle cx="355.0" cy="359.6" r="1.85"/><circle cx="356.2" cy="357.7" r="1.85"/><circle cx="357.4" cy="356.5" r="1.85"/><circle cx="358.6" cy="354.3" r="1.85"/><circle cx="359.7" cy="352.3" r="1.85"/><circle cx="360.9" cy="350.6" r="1.85"/><circle cx="362.1" cy="348.9" r="1.85"/><circle cx="363.3" cy="347.1" r="1.85"/><circle cx="364.5" cy="345.3" r="1.85"/><circle cx="365.7" cy="344.2" r="1.85"/><circle cx="366.9" cy="342.0" r="1.85"/><circle cx="368.0" cy="340.9" r="1.85"/><circle cx="369.2" cy="338.9" r="1.85"/><circle cx="370.4" cy="337.4" r="1.85"/><circle cx="371.6" cy="335.0" r="1.85"/><circle cx="372.8" cy="333.2" r="1.85"/><circle cx="374.0" cy="331.7" r="1.85"/><circle cx="375.2" cy="329.5" r="1.85"/><circle cx="376.4" cy="328.3" r="1.85"/><circle cx="377.6" cy="326.4" r="1.85"/><circle cx="378.8" cy="324.6" r="1.85"/><circle cx="380.0" cy="323.2" r="1.85"/><circle cx="381.2" cy="321.1" r="1.85"/><circle cx="382.4" cy="319.1" r="1.85"/><circle cx="383.6" cy="318.0" r="1.85"/><circle cx="384.8" cy="316.0" r="1.85"/><circle cx="386.0" cy="314.6" r="1.85"/><circle cx="387.2" cy="312.6" r="1.85"/><circle cx="388.4" cy="311.3" r="1.85"/><circle cx="389.6" cy="309.7" r="1.85"/><circle cx="390.8" cy="308.2" r="1.85"/><circle cx="392.0" cy="306.8" r="1.85"/><circle cx="393.3" cy="305.7" r="1.85"/><circle cx="394.5" cy="303.6" r="1.85"/><circle cx="395.7" cy="302.7" r="1.85"/><circle cx="396.9" cy="300.9" r="1.85"/><circle cx="398.1" cy="299.3" r="1.85"/><circle cx="399.3" cy="298.3" r="1.85"/><circle cx="400.6" cy="296.6" r="1.85"/><circle cx="401.8" cy="294.7" r="1.85"/><circle cx="403.0" cy="293.6" r="1.85"/><circle cx="404.2" cy="292.4" r="1.85"/><circle cx="405.4" cy="292.1" r="1.85"/><circle cx="406.7" cy="289.6" r="1.85"/><circle cx="407.9" cy="288.0" r="1.85"/><circle cx="409.1" cy="286.7" r="1.85"/><circle cx="410.4" cy="285.9" r="1.85"/><circle cx="411.6" cy="283.9" r="1.85"/><circle cx="412.8" cy="283.7" r="1.85"/><circle cx="414.0" cy="282.5" r="1.85"/><circle cx="415.3" cy="281.2" r="1.85"/><circle cx="416.5" cy="281.8" r="1.85"/><circle cx="417.7" cy="280.7" r="1.85"/><circle cx="419.0" cy="278.2" r="1.85"/><circle cx="420.2" cy="278.6" r="1.85"/><circle cx="421.5" cy="279.6" r="1.85"/><circle cx="422.7" cy="278.0" r="1.85"/><circle cx="423.9" cy="276.7" r="1.85"/><circle cx="425.2" cy="275.3" r="1.85"/><circle cx="426.4" cy="275.3" r="1.85"/><circle cx="427.7" cy="275.2" r="1.85"/><circle cx="428.9" cy="275.0" r="1.85"/><circle cx="430.2" cy="273.8" r="1.85"/><circle cx="431.4" cy="274.0" r="1.85"/><circle cx="432.7" cy="274.6" r="1.85"/><circle cx="433.9" cy="274.4" r="1.85"/><circle cx="435.2" cy="274.6" r="1.85"/><circle cx="436.4" cy="273.8" r="1.85"/><circle cx="437.7" cy="275.1" r="1.85"/><circle cx="438.9" cy="274.6" r="1.85"/><circle cx="440.2" cy="274.7" r="1.85"/><circle cx="441.4" cy="275.2" r="1.85"/><circle cx="442.7" cy="276.2" r="1.85"/><circle cx="443.9" cy="274.5" r="1.85"/><circle cx="445.2" cy="276.0" r="1.85"/><circle cx="446.5" cy="275.3" r="1.85"/><circle cx="447.7" cy="276.5" r="1.85"/><circle cx="449.0" cy="277.6" r="1.85"/><circle cx="450.3" cy="276.3" r="1.85"/><circle cx="451.5" cy="276.3" r="1.85"/><circle cx="452.8" cy="276.8" r="1.85"/><circle cx="454.1" cy="276.8" r="1.85"/><circle cx="455.3" cy="278.2" r="1.85"/><circle cx="456.6" cy="279.3" r="1.85"/><circle cx="457.9" cy="280.0" r="1.85"/><circle cx="459.2" cy="279.5" r="1.85"/><circle cx="460.4" cy="281.4" r="1.85"/><circle cx="461.7" cy="283.5" r="1.85"/><circle cx="463.0" cy="284.0" r="1.85"/><circle cx="464.3" cy="286.3" r="1.85"/><circle cx="465.5" cy="287.9" r="1.85"/><circle cx="466.8" cy="288.5" r="1.85"/><circle cx="468.1" cy="290.6" r="1.85"/><circle cx="469.4" cy="292.3" r="1.85"/><circle cx="470.7" cy="293.0" r="1.85"/><circle cx="472.0" cy="293.7" r="1.85"/><circle cx="473.3" cy="295.0" r="1.85"/><circle cx="474.5" cy="295.9" r="1.85"/><circle cx="475.8" cy="298.1" r="1.85"/><circle cx="477.1" cy="299.2" r="1.85"/><circle cx="478.4" cy="300.9" r="1.85"/><circle cx="479.7" cy="302.7" r="1.85"/><circle cx="481.0" cy="304.3" r="1.85"/><circle cx="482.3" cy="306.2" r="1.85"/><circle cx="483.6" cy="308.4" r="1.85"/><circle cx="484.9" cy="310.0" r="1.85"/><circle cx="486.2" cy="312.6" r="1.85"/><circle cx="487.5" cy="314.6" r="1.85"/><circle cx="488.8" cy="316.8" r="1.85"/><circle cx="490.1" cy="319.1" r="1.85"/><circle cx="491.4" cy="321.8" r="1.85"/><circle cx="492.7" cy="324.1" r="1.85"/><circle cx="494.0" cy="326.6" r="1.85"/><circle cx="495.3" cy="328.8" r="1.85"/><circle cx="496.6" cy="331.7" r="1.85"/><circle cx="497.9" cy="334.1" r="1.85"/><circle cx="499.2" cy="336.6" r="1.85"/><circle cx="500.6" cy="339.3" r="1.85"/><circle cx="501.9" cy="340.8" r="1.85"/><circle cx="503.2" cy="343.7" r="1.85"/><circle cx="504.5" cy="346.4" r="1.85"/><circle cx="505.8" cy="348.1" r="1.85"/><circle cx="507.1" cy="351.0" r="1.85"/><circle cx="508.5" cy="353.1" r="1.85"/><circle cx="509.8" cy="355.4" r="1.85"/><circle cx="511.1" cy="358.3" r="1.85"/><circle cx="512.4" cy="360.8" r="1.85"/><circle cx="513.8" cy="363.5" r="1.85"/><circle cx="515.1" cy="366.2" r="1.85"/><circle cx="516.4" cy="369.4" r="1.85"/><circle cx="517.7" cy="372.1" r="1.85"/><circle cx="519.1" cy="374.8" r="1.85"/><circle cx="520.4" cy="377.5" r="1.85"/><circle cx="521.7" cy="380.5" r="1.85"/><circle cx="523.1" cy="383.2" r="1.85"/><circle cx="524.4" cy="386.4" r="1.85"/><circle cx="525.7" cy="389.6" r="1.85"/><circle cx="527.1" cy="392.5" r="1.85"/><circle cx="528.4" cy="395.9" r="1.85"/><circle cx="529.8" cy="398.5" r="1.85"/><circle cx="531.1" cy="401.4" r="1.85"/><circle cx="532.4" cy="403.9" r="1.85"/><circle cx="533.8" cy="406.5" r="1.85"/><circle cx="535.1" cy="409.4" r="1.85"/><circle cx="536.5" cy="412.0" r="1.85"/><circle cx="537.8" cy="414.7" r="1.85"/><circle cx="539.2" cy="416.7" r="1.85"/><circle cx="540.5" cy="418.9" r="1.85"/><circle cx="541.9" cy="421.0" r="1.85"/><circle cx="542.5" cy="422.2" r="1.85"/></g>
<line x1="279.6" y1="276.4" x2="311.8" y2="276.4" stroke="#000" stroke-width="1.6" stroke-dasharray="4.2 1.8"/>
<text x="319.2" y="280.8" class="lg">Desuberized</text>
<line x1="279.6" y1="292.9" x2="311.8" y2="292.9" stroke="#14ee14" stroke-width="1.6" stroke-dasharray="4.2 1.8"/>
<text x="319.2" y="297.3" class="lg">Suberin</text>
<line x1="279.6" y1="309.4" x2="311.8" y2="309.4" stroke="#ff0000" stroke-width="1.5"/>
<text x="319.2" y="313.8" class="lg">Fitted</text>
<circle cx="295.7" cy="325.9" r="1.75" fill="#fff" stroke="#0a0aff" stroke-width="1"/>
<text x="319.2" y="330.3" class="lg">Bark</text>
</svg>
</body></html>
